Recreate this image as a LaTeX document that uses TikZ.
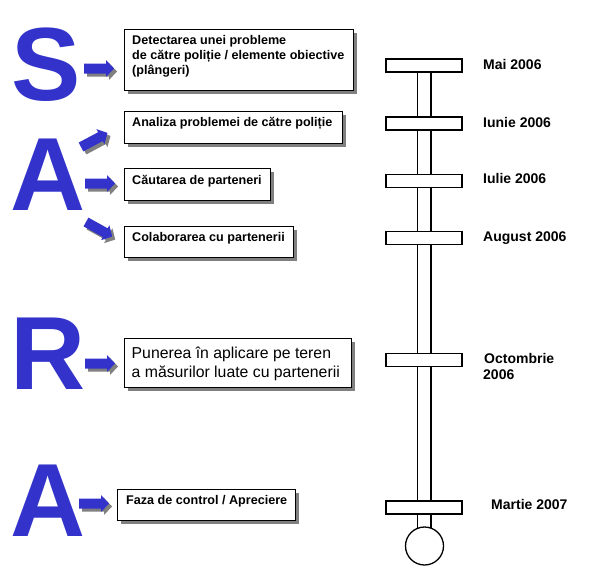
\documentclass[tikz,border=0pt]{standalone}
\usepackage{fontspec}
\setmainfont{Liberation Sans}
\usetikzlibrary{shadows,backgrounds}
\definecolor{sarablue}{RGB}{51,51,204}
\definecolor{shadowgray}{RGB}{128,128,128}
\newcommand{\sarablockarrow}[4]{%
  \begin{scope}[shift={(#2+3,#3+3)},rotate=#4]
    \fill[shadowgray] (0,-5) -- (22,-5) -- (22,-8.5) -- (30,0) -- (22,8.5) -- (22,5) -- (0,5) -- cycle;
  \end{scope}
  \begin{scope}[shift={(#2,#3)},rotate=#4]
    \fill[sarablue] (0,-5) -- (22,-5) -- (22,-8.5) -- (30,0) -- (22,8.5) -- (22,5) -- (0,5) -- cycle;
    \coordinate (#1) at (30,0);
  \end{scope}
}
\begin{document}
\begin{tikzpicture}[x=1pt,y=-1pt,
  bigletter/.style={font=\fontsize{104}{104}\selectfont\bfseries, text=sarablue, inner sep=0pt, anchor=base west},
  box/.style={draw, line width=1pt, fill=white, inner sep=0pt, anchor=north west,
    drop shadow={shadow xshift=3pt, shadow yshift=-3pt, fill=shadowgray, opacity=1}},
  boldtext/.style={font=\fontsize{12.6}{15}\selectfont\bfseries, inner sep=0pt, align=left},
  plaintext/.style={font=\fontsize{15.8}{19.5}\selectfont, inner sep=0pt, align=left},
  datelabel/.style={font=\fontsize{14}{16}\selectfont\bfseries, inner sep=0pt, anchor=base west, align=left},
  bar/.style={draw, line width=1.3pt, fill=white, minimum width=76pt, minimum height=13pt, inner sep=0pt},
  endcircle/.style={draw, line width=1.3pt, fill=white, circle, minimum size=38pt, inner sep=0pt}
]
\useasboundingbox (0,0) rectangle (605,568);

% big letters
\node[bigletter] (S) at (11,100.5) {S};
\node[bigletter] (A1) at (10,210) {A};
\node[bigletter] (R) at (10.5,389) {R};
\node[bigletter] (A2) at (10,536) {A};

% boxes
\node[box, minimum width=229pt, minimum height=61pt] (b1) at (124,29) {};
\node[box, minimum width=218pt, minimum height=32pt] (b2) at (124,111) {};
\node[box, minimum width=146pt, minimum height=32pt] (b3) at (124,168) {};
\node[box, minimum width=169pt, minimum height=31pt] (b4) at (124,226) {};
\node[box, minimum width=227pt, minimum height=49pt] (b5) at (124,338) {};
\node[box, minimum width=178pt, minimum height=31pt] (b6) at (117,489) {};

% box texts
\node[boldtext, anchor=north west] (t1) at (132,35) {Detectarea unei probleme\\de către poliție / elemente obiective\\(plângeri)};
\node[boldtext, anchor=base west] (t2) at (132,126) {Analiza problemei de către poliție};
\node[boldtext, anchor=base west] (t3) at (132,184) {Căutarea de parteneri};
\node[boldtext, anchor=base west] (t4) at (132,241) {Colaborarea cu partenerii};
\node[plaintext, anchor=north west] (t5) at (131.5,346.5) {Punerea în aplicare pe teren\\a măsurilor luate cu partenerii};
\node[boldtext, anchor=base west] (t6) at (126,504) {Faza de control / Apreciere};

% block arrows
\sarablockarrow{ar1}{84}{68.5}{0}
\sarablockarrow{ar2}{81}{147}{28}
\sarablockarrow{ar3}{85}{183.5}{0}
\sarablockarrow{ar4}{86}{222}{-29}
\sarablockarrow{ar5}{85}{363.5}{0}
\sarablockarrow{ar6}{79}{503.5}{0}

% timeline
\node[bar] (mai) at (424,65.5) {};
\node[bar] (iunie) at (424,123.5) {};
\node[bar] (iulie) at (424,181) {};
\node[bar] (aug) at (424,238) {};
\node[bar] (oct) at (424,360) {};
\node[bar] (mar) at (424,507.5) {};
\node[endcircle] (end) at (424.5,546) {};
\begin{scope}[on background layer]
  \draw[line width=1.3pt, fill=white] ([xshift=-6.5pt]mai.center) rectangle ([xshift=6.5pt]end.center);
\end{scope}

% date labels
\node[datelabel] (lmai) at (483,69) {Mai 2006};
\node[datelabel] (liunie) at (483,127) {Iunie 2006};
\node[datelabel] (liulie) at (483,183) {Iulie 2006};
\node[datelabel] (laug) at (483,241.7) {August 2006};
\node[datelabel] (loct) at (484,363) {Octombrie};
\node[datelabel] (loct2) at (483,379) {2006};
\node[datelabel] (lmar) at (491,509) {Martie 2007};
\end{tikzpicture}
\end{document}
